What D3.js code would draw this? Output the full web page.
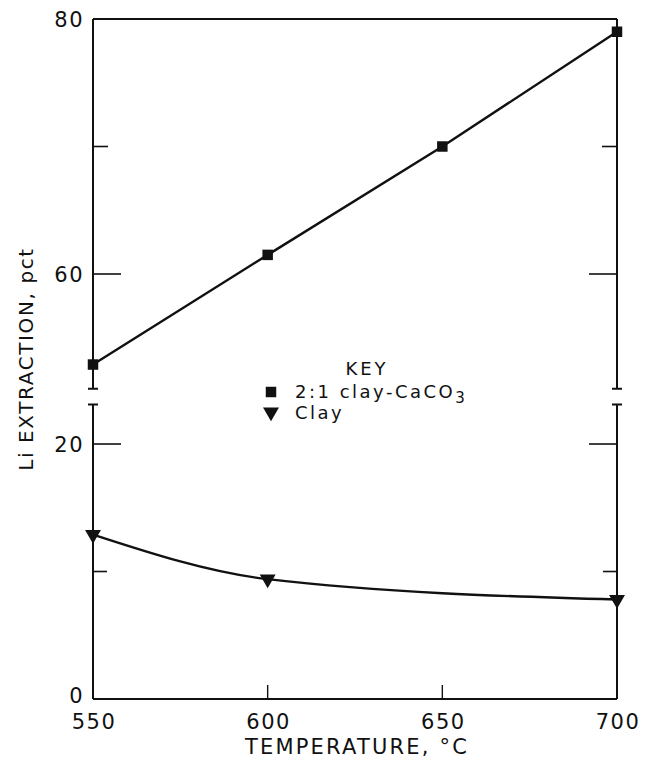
<!DOCTYPE html>
<html>
<head>
<meta charset="utf-8">
<script src="https://cdn.jsdelivr.net/npm/d3@7"></script>
<style>
  body { margin: 0; background: #fff; }
  text { font-family: "DejaVu Sans", sans-serif; fill: #111; }
</style>
</head>
<body>
<svg id="chart_root" width="653" height="760"></svg>
<script>
// data
var temperatures = [550, 600, 650, 700];
var clay_caco3 = [52.9, 61.5, 70.0, 79.0];
var clay_temps = [550, 600, 700];
var clay_only = [12.9, 9.4, 7.8];

var x_ticks = [550, 600, 650, 700];
var upper_major = [60, 80];
var upper_minor = [70];
var lower_major = [0, 20];
var lower_minor = [10];

var margin_left = 93, margin_right = 36;
var total_width = 653;

var svg = d3.select('#chart_root');

var x = d3.scaleLinear()
    .domain([550, 700])
    .range([margin_left, total_width - margin_right]);

// broken y axis: two linear pieces with the same scale
var y_upper = d3.scaleLinear().domain([51, 80]).range([388.75, 19]);
var y_lower = d3.scaleLinear().domain([0, 23.1]).range([699, 404.5]);

var x0 = x.range()[0], x1 = x.range()[1];
var axis_colour = "#111";

// frame pieces
var frame = svg.append("g")
    .attr("stroke", axis_colour)
    .attr("stroke-width", 2)
    .attr("fill", "none");

// top and bottom
frame.append("line").attr("x1", x0).attr("x2", x1).attr("y1", y_upper(80)).attr("y2", y_upper(80));
frame.append("line").attr("x1", x0).attr("x2", x1).attr("y1", y_lower(0)).attr("y2", y_lower(0));

// sides with break caps
[x0, x1].forEach(function(xx)
{
    frame.append("line").attr("x1", xx).attr("x2", xx)
        .attr("y1", y_upper(80)).attr("y2", y_upper.range()[0]);
    frame.append("line").attr("x1", xx).attr("x2", xx)
        .attr("y1", y_lower.range()[1]).attr("y2", y_lower(0));
    frame.append("line").attr("x1", xx - 5).attr("x2", xx + 5)
        .attr("y1", y_upper.range()[0]).attr("y2", y_upper.range()[0]);
    frame.append("line").attr("x1", xx - 5).attr("x2", xx + 5)
        .attr("y1", y_lower.range()[1]).attr("y2", y_lower.range()[1]);
});

// inward ticks on both sides
var tick_defs = [];
upper_major.forEach(function(v) { if (v !== 80) tick_defs.push({y: y_upper(v), len: 28}); });
upper_minor.forEach(function(v) { tick_defs.push({y: y_upper(v), len: 15}); });
lower_major.forEach(function(v) { if (v !== 0) tick_defs.push({y: y_lower(v), len: 28}); });
lower_minor.forEach(function(v) { tick_defs.push({y: y_lower(v), len: 14}); });

tick_defs.forEach(function(t)
{
    frame.append("line").attr("x1", x0).attr("x2", x0 + t.len).attr("y1", t.y).attr("y2", t.y).attr("stroke-width", 1.6);
    frame.append("line").attr("x1", x1).attr("x2", x1 - t.len).attr("y1", t.y).attr("y2", t.y).attr("stroke-width", 1.6);
});

// bottom inward ticks
x_ticks.slice(1, -1).forEach(function(v)
{
    frame.append("line").attr("x1", x(v)).attr("x2", x(v))
        .attr("y1", y_lower(0)).attr("y2", y_lower(0) - 14).attr("stroke-width", 1.4);
});

// y tick labels
var ylabels = svg.append("g")
    .attr("font-size", 21)
    .attr("letter-spacing", 1.5)
    .attr("text-anchor", "end");
upper_major.forEach(function(v)
{
    ylabels.append("text").attr("x", x0 - 9).attr("y", y_upper(v)).attr("dy", "0.36em").text(v);
});
lower_major.forEach(function(v)
{
    // the zero label sits a touch high so it clears the 550 below it
    ylabels.append("text").attr("x", x0 - 9).attr("y", y_lower(v))
        .attr("dy", v === 0 ? "0.2em" : "0.36em").text(v);
});

// x tick labels
svg.append("g")
    .attr("font-size", 21)
    .attr("letter-spacing", 1.5)
    .attr("text-anchor", "middle")
    .selectAll("text")
    .data(x_ticks)
    .enter().append("text")
    .attr("x", function(d) { return x(d) + 1; })
    .attr("y", 728.5)
    .text(function(d) { return d; });

// axis titles
svg.append("text")
    .attr("x", (x0 + x1) / 2 + 2)
    .attr("y", 754)
    .attr("font-size", 21)
    .attr("text-anchor", "middle")
    .attr("letter-spacing", 2.2)
    .text("TEMPERATURE, °C");

svg.append("text")
    .attr("transform", "translate(33,359) rotate(-90)")
    .attr("font-size", 20)
    .attr("text-anchor", "middle")
    .attr("letter-spacing", 1.6)
    .text("Li EXTRACTION, pct");

// series lines
var upper_line = d3.line()
    .x(function(d, i) { return x(temperatures[i]); })
    .y(function(d) { return y_upper(d); });

svg.append("path")
    .datum(clay_caco3)
    .attr("d", upper_line)
    .attr("fill", "none")
    .attr("stroke", "#111")
    .attr("stroke-width", 2.4);

var lower_line = d3.line()
    .curve(d3.curveMonotoneX)
    .x(function(d, i) { return x(clay_temps[i]); })
    .y(function(d) { return y_lower(d); });

svg.append("path")
    .datum(clay_only)
    .attr("d", lower_line)
    .attr("fill", "none")
    .attr("stroke", "#111")
    .attr("stroke-width", 2.4);

// markers
var square = d3.symbol().type(d3.symbolSquare).size(110);
var triangle = d3.symbol().type(d3.symbolTriangle).size(110);

svg.append("g")
    .selectAll("path")
    .data(clay_caco3)
    .enter().append("path")
    .attr("d", square)
    .attr("fill", "#111")
    .attr("transform", function(d, i) { return "translate(" + x(temperatures[i]) + "," + y_upper(d) + ")"; });

svg.append("g")
    .selectAll("path")
    .data(clay_only)
    .enter().append("path")
    .attr("d", triangle)
    .attr("fill", "#111")
    .attr("transform", function(d, i) { return "translate(" + x(clay_temps[i]) + "," + y_lower(d) + ") rotate(180)"; });

// key
var key = svg.append("g").attr("font-size", 18).attr("letter-spacing", 2.5);
key.append("text").attr("x", 367).attr("y", 375).attr("text-anchor", "middle").attr("letter-spacing", 3).text("KEY");
key.append("path").attr("d", square).attr("fill", "#111").attr("transform", "translate(271,392)");
var t1 = key.append("text").attr("x", 295).attr("y", 398);
t1.append("tspan").text("2:1 clay-CaCO");
t1.append("tspan").attr("dy", 5).attr("font-size", 15).text("3");
key.append("path").attr("d", triangle).attr("fill", "#111").attr("transform", "translate(271,412) rotate(180)");
key.append("text").attr("x", 295).attr("y", 419).text("Clay");
</script>
</body>
</html>
